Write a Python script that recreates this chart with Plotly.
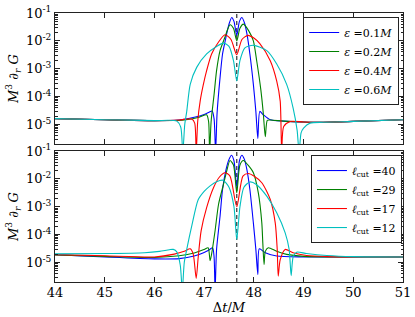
import plotly.graph_objects as go
from plotly.subplots import make_subplots

# ---------------- data ----------------
t_peak = 47.656  # dashed line position (Δt/M)

# Top panel: different ε
x_eps01 = [44.0, 45.0, 46.0, 46.5, 46.8, 47.0, 47.1, 47.16, 47.2, 47.23, 47.26, 47.32, 47.37, 47.44, 47.5, 47.555, 47.6, 47.656, 47.71, 47.76, 47.81, 47.86, 47.92, 47.99, 48.04, 48.08, 48.12, 48.19, 48.33, 48.6, 49.0, 49.4, 50.0, 51.0]
y_eps01 = [1.62e-5, 1.48e-5, 1.38e-5, 1.45e-5, 1.82e-5, 2.29e-5, 2.75e-5, 3.02e-5, 1.58e-5, 1e-6, 2.51e-5, 4.79e-4, 3.39e-3, 1.38e-2, 3.98e-2, 6.92e-2, 5.01e-2, 1.58e-2, 5.01e-2, 6.92e-2, 4.47e-2, 1.82e-2, 3.39e-3, 2.75e-4, 2.95e-5, 3.16e-6, 2.95e-5, 2.24e-5, 1.48e-5, 1.32e-5, 1.23e-5, 1.20e-5, 1.29e-5, 1.48e-5]

x_eps02 = [44.0, 45.0, 46.0, 46.6, 46.9, 47.05, 47.09, 47.11, 47.14, 47.2, 47.25, 47.32, 47.42, 47.47, 47.52, 47.59, 47.656, 47.72, 47.79, 47.9, 47.99, 48.06, 48.14, 48.19, 48.23, 48.27, 48.33, 48.6, 49.0, 49.4, 50.0, 51.0]
y_eps02 = [1.62e-5, 1.48e-5, 1.38e-5, 1.45e-5, 1.82e-5, 2.24e-5, 1.26e-5, 1e-6, 1.26e-5, 1.20e-4, 8.51e-4, 4.47e-3, 1.38e-2, 2.51e-2, 3.80e-2, 2.82e-2, 1.0e-2, 2.82e-2, 3.98e-2, 2.24e-2, 1.0e-2, 1.78e-3, 1.78e-4, 2.51e-5, 3.63e-6, 1.41e-5, 1.45e-5, 1.32e-5, 1.23e-5, 1.20e-5, 1.29e-5, 1.48e-5]

x_eps04 = [44.0, 45.0, 46.0, 46.5, 46.75, 46.81, 46.84, 46.87, 46.92, 46.98, 47.05, 47.15, 47.29, 47.42, 47.54, 47.656, 47.76, 47.88, 48.0, 48.12, 48.33, 48.46, 48.53, 48.56, 48.6, 48.73, 49.0, 49.4, 50.0, 51.0]
y_eps04 = [1.62e-5, 1.48e-5, 1.38e-5, 1.45e-5, 1.58e-5, 1.12e-5, 1e-6, 1.26e-5, 6.92e-5, 2.51e-4, 8.51e-4, 3.39e-3, 9.12e-3, 1.66e-2, 1.12e-2, 3.16e-3, 1.12e-2, 1.58e-2, 1.26e-2, 7.94e-3, 1.95e-3, 3.63e-4, 6.92e-5, 1e-6, 8.51e-6, 1.29e-5, 1.23e-5, 1.20e-5, 1.29e-5, 1.48e-5]

x_eps06 = [44.0, 45.0, 46.0, 46.45, 46.53, 46.57, 46.61, 46.65, 46.72, 46.85, 47.05, 47.25, 47.39, 47.5, 47.59, 47.656, 47.72, 47.82, 47.99, 48.26, 48.46, 48.66, 48.79, 48.87, 48.91, 48.95, 49.0, 49.13, 49.4, 50.0, 51.0]
y_eps06 = [1.62e-5, 1.48e-5, 1.38e-5, 1.32e-5, 7.94e-6, 1e-6, 1.0e-5, 2.95e-5, 2.75e-4, 1.12e-3, 3.39e-3, 6.31e-3, 8.32e-3, 6.31e-3, 1.95e-3, 3.63e-4, 1.95e-3, 5.62e-3, 6.92e-3, 4.47e-3, 1.48e-3, 2.75e-4, 3.89e-5, 6.31e-6, 1e-6, 5.01e-6, 7.41e-6, 1.12e-5, 1.20e-5, 1.29e-5, 1.48e-5]

# Bottom panel: different ℓ_cut
x_l40 = [44.0, 45.0, 46.0, 46.5, 46.8, 47.0, 47.1, 47.17, 47.2, 47.22, 47.25, 47.32, 47.37, 47.44, 47.5, 47.55, 47.6, 47.656, 47.71, 47.76, 47.81, 47.86, 47.92, 47.99, 48.04, 48.08, 48.11, 48.23, 48.46, 49.0, 50.0, 51.0]
y_l40 = [1.91e-5, 1.58e-5, 1.35e-5, 1.38e-5, 1.70e-5, 2.29e-5, 2.82e-5, 3.39e-5, 1.58e-5, 1e-6, 2.95e-5, 4.57e-4, 4.17e-3, 2.14e-2, 5.01e-2, 7.08e-2, 4.47e-2, 5.01e-3, 4.47e-2, 7.08e-2, 5.01e-2, 2.14e-2, 4.17e-3, 2.63e-4, 2.95e-5, 3.72e-6, 3.09e-5, 2.24e-5, 1.70e-5, 1.58e-5, 1.58e-5, 1.58e-5]

x_l29 = [44.0, 45.0, 46.0, 46.5, 46.8, 47.0, 47.08, 47.12, 47.15, 47.22, 47.29, 47.39, 47.45, 47.52, 47.59, 47.656, 47.72, 47.79, 47.88, 47.99, 48.09, 48.16, 48.18, 48.205, 48.23, 48.29, 48.46, 48.66, 49.0, 50.0, 51.0]
y_l29 = [1.86e-5, 1.66e-5, 1.51e-5, 1.74e-5, 2.19e-5, 2.95e-5, 3.39e-5, 1.15e-5, 2.0e-5, 1.38e-4, 1.23e-3, 6.46e-3, 1.78e-2, 4.57e-2, 3.16e-2, 3.16e-3, 3.16e-2, 4.57e-2, 3.16e-2, 1.66e-2, 3.16e-3, 2.63e-4, 5.01e-5, 8.51e-6, 2.51e-5, 3.39e-5, 2.51e-5, 1.95e-5, 1.66e-5, 1.58e-5, 1.58e-5]

x_l17 = [44.0, 45.0, 46.0, 46.4, 46.6, 46.72, 46.78, 46.84, 46.88, 46.94, 47.05, 47.19, 47.3, 47.42, 47.52, 47.656, 47.78, 47.89, 48.0, 48.16, 48.33, 48.43, 48.47, 48.49, 48.53, 48.63, 48.79, 49.06, 49.5, 50.0, 51.0]
y_l17 = [1.91e-5, 1.74e-5, 1.58e-5, 2.0e-5, 2.51e-5, 3.09e-5, 2.0e-5, 2.69e-6, 1.51e-5, 1.38e-4, 9.33e-4, 4.90e-3, 1.12e-2, 1.66e-2, 1.26e-2, 1.0e-3, 1.26e-2, 1.55e-2, 1.26e-2, 7.24e-3, 1.82e-3, 2.63e-4, 2.95e-5, 3.24e-6, 1.26e-5, 2.95e-5, 2.24e-5, 1.78e-5, 1.62e-5, 1.58e-5, 1.58e-5]

x_l12 = [44.0, 45.0, 45.8, 46.1, 46.3, 46.38, 46.45, 46.52, 46.56, 46.6, 46.65, 46.75, 46.88, 47.0, 47.12, 47.25, 47.38, 47.5, 47.6, 47.656, 47.72, 47.8, 47.92, 48.05, 48.26, 48.46, 48.63, 48.71, 48.75, 48.79, 48.86, 49.06, 49.47, 50.0, 51.0]
y_l12 = [2.04e-5, 2.09e-5, 2.24e-5, 2.51e-5, 2.88e-5, 2.95e-5, 2.4e-5, 7.94e-6, 1e-6, 1.0e-5, 2.95e-5, 2.0e-4, 1.78e-3, 3.55e-3, 5.62e-3, 7.94e-3, 8.91e-3, 5.01e-3, 1.0e-3, 6.61e-5, 1.0e-3, 5.01e-3, 7.76e-3, 6.31e-3, 2.4e-3, 6.03e-4, 1.15e-4, 2.95e-5, 3.39e-6, 1.58e-5, 2.34e-5, 2.09e-5, 1.78e-5, 1.62e-5, 1.58e-5]

top_names = ["<i>ε</i> =0.1<i>M</i>", "<i>ε</i> =0.2<i>M</i>", "<i>ε</i> =0.4<i>M</i>", "<i>ε</i> =0.6<i>M</i>"]
bot_names = ["<i>ℓ</i><sub>cut</sub> =40", "<i>ℓ</i><sub>cut</sub> =29", "<i>ℓ</i><sub>cut</sub> =17", "<i>ℓ</i><sub>cut</sub> =12"]
x_ticks = [44, 45, 46, 47, 48, 49, 50, 51]
y_ticks = [1e-5, 1e-4, 1e-3, 1e-2, 1e-1]
y_ticktext = ["10<sup>-5</sup>", "10<sup>-4</sup>", "10<sup>-3</sup>", "10<sup>-2</sup>", "10<sup>-1</sup>"]
y_minor = [m * 10.0 ** e for e in range(-6, -1) for m in range(2, 10)]

colors = ["#0000ff", "#008000", "#ff0000", "#00bfbf"]

# ---------------- figure ----------------
fig = make_subplots(rows=2, cols=1, shared_xaxes=True, vertical_spacing=0.026)

top = [(x_eps01, y_eps01), (x_eps02, y_eps02), (x_eps04, y_eps04), (x_eps06, y_eps06)]
bot = [(x_l40, y_l40), (x_l29, y_l29), (x_l17, y_l17), (x_l12, y_l12)]

for (xs, ys), name, c in zip(top, top_names, colors):
    fig.add_trace(go.Scatter(x=xs, y=ys, mode="lines", name=name,
                             line=dict(color=c, width=1.1, shape="spline", smoothing=0.7),
                             legend="legend"), row=1, col=1)
for (xs, ys), name, c in zip(bot, bot_names, colors):
    fig.add_trace(go.Scatter(x=xs, y=ys, mode="lines", name=name,
                             line=dict(color=c, width=1.1, shape="spline", smoothing=0.7),
                             legend="legend2"), row=2, col=1)

for r in (1, 2):
    fig.add_vline(x=t_peak, line=dict(color="#333333", width=1.2, dash="4px,3px"),
                  layer="below", row=r, col=1)

axis_common = dict(showline=True, linecolor="#222222", linewidth=1, mirror="allticks",
                   ticks="inside", tickcolor="#222222", showgrid=False, zeroline=False,
                   tickfont=dict(size=13, family="DejaVu Serif"))

fig.update_xaxes(range=[44, 51], tickvals=x_ticks, ticklen=5, **axis_common)
fig.update_xaxes(showticklabels=False, row=1, col=1)
fig.update_xaxes(title=dict(text="Δ<i>t</i>/<i>M</i>", standoff=0, font=dict(size=13)),
                 ticklabelstandoff=-2, row=2, col=1)

fig.update_yaxes(type="log", range=[-5.7, -1], tickvals=y_ticks, ticktext=y_ticktext, ticklen=5,
                 minor=dict(ticks="inside", ticklen=2.5, tickcolor="#222222", showgrid=False,
                            tickvals=y_minor),
                 title=dict(text="<i>M</i><sup>3</sup> ∂<sub><i>r</i></sub> <i>G</i>", standoff=4,
                            font=dict(size=13)),
                 **axis_common)

legend_common = dict(bgcolor="white", bordercolor="#222222", borderwidth=1,
                     font=dict(size=11, family="DejaVu Serif"), xanchor="right", yanchor="top",
                     itemwidth=30, tracegroupgap=0)

fig.update_layout(
    width=415, height=317,
    margin=dict(l=55, r=12, t=13, b=35, autoexpand=False),
    paper_bgcolor="white", plot_bgcolor="white",
    font=dict(family="DejaVu Serif", size=12, color="black"),
    legend=dict(x=0.989, y=0.985, **legend_common),
    legend2=dict(x=0.997, y=0.472, **legend_common),
)

fig.write_html("out.html", config={"staticPlot": True, "displayModeBar": False},
               post_script="document.body.style.margin='0';document.body.style.overflow='hidden';")
